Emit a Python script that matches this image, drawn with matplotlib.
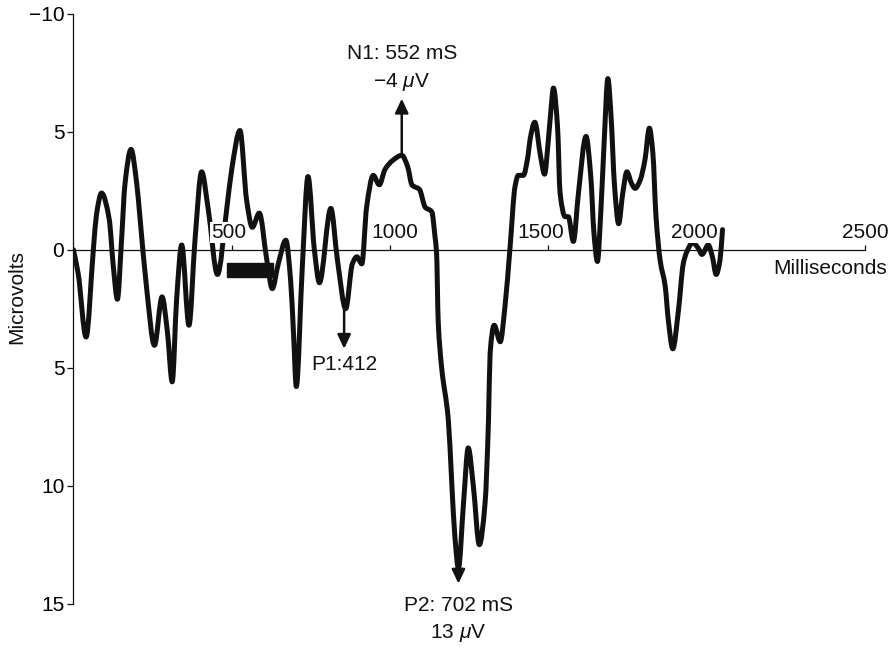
import matplotlib
matplotlib.use("Agg")
import matplotlib.pyplot as plt
import numpy as np
from matplotlib.patches import Rectangle, PathPatch
from matplotlib.path import Path

plt.rcParams['font.family'] = ['Liberation Sans', 'DejaVu Sans']
plt.rcParams['mathtext.fontset'] = 'custom'
plt.rcParams['mathtext.rm'] = 'Liberation Sans'
plt.rcParams['mathtext.it'] = 'Liberation Sans:italic'

# ERP waveform: time (ms) and amplitude (microvolts, positive plotted downward)
time_ms = [0, 15, 40, 63, 73, 89, 113, 126, 139, 152, 163, 182, 200, 210, 231,
           256, 280, 297, 312, 326, 342, 365, 384, 405, 426, 455, 484, 500, 526,
           547, 565, 587, 611, 628, 647, 671, 686, 695, 704, 723, 741, 761, 777,
           813, 834, 860, 881, 895, 911, 926, 947, 966, 984, 1010, 1037, 1056,
           1069, 1093, 1111, 1132, 1142, 1147, 1152, 1163, 1184, 1195, 1205,
           1216, 1232, 1247, 1263, 1282, 1300, 1311, 1316, 1329, 1348, 1363,
           1379, 1395, 1405, 1421, 1436, 1442, 1457, 1476, 1488, 1500, 1508,
           1516, 1529, 1537, 1553, 1563, 1579, 1595, 1619, 1634, 1644, 1655,
           1666, 1676, 1688, 1698, 1709, 1722, 1735, 1748, 1763, 1774, 1790,
           1805, 1819, 1830, 1840, 1853, 1869, 1879, 1893, 1911, 1926, 1937,
           1956, 1974, 1985, 2005, 2018, 2030, 2042, 2050]
microvolts = [0.0, 1.0, 3.7, 0.0, -1.5, -2.4, -1.3, 0.7, 2.1, -0.4, -2.8, -4.25,
              -2.8, -1.4, 1.6, 4.05, 2.0, 3.5, 5.6, 2.1, -0.2, 3.2, -0.4, -3.3,
              -1.7, 1.05, -1.7, -3.4, -5.05, -2.1, -0.95, -1.55, 0.45, 1.65, 0.6,
              -0.4, 1.3, 3.5, 5.8, 0.7, -3.1, 0.0, 1.4, -1.75, 0.45, 2.5, 0.6,
              0.3, 0.6, -1.8, -3.15, -2.75, -3.4, -3.8, -4.0, -3.5, -2.75,
              -2.55, -1.8, -1.6, -0.55, 0.15, 3.0, 5.0, 7.2, 9.9, 12.2, 13.5,
              10.75, 8.4, 10.0, 12.5, 10.75, 7.2, 4.4, 3.2, 3.9, 2.4, -0.1,
              -2.7, -3.15, -3.15, -4.0, -4.65, -5.4, -3.9, -3.2, -4.65, -5.9,
              -6.85, -5.2, -2.4, -1.4, -1.4, -0.35, -2.4, -4.8, -3.1, -0.7, 0.5,
              -1.7, -4.5, -7.25, -5.65, -2.7, -1.1, -2.4, -3.3, -2.8, -2.6,
              -2.95, -3.8, -5.15, -4.1, -1.4, 0.45, 1.55, 3.0, 4.2, 2.55, 0.6,
              0.1, -0.3, -0.05, 0.2, -0.2, 0.3, 1.05, 0.45, -0.85]

x_ticks = [500, 1000, 1500, 2000, 2500]
x_tick_labels = ["500", "1000", "1500", "2000", "2500"]
y_ticks = [-10, -5, 0, 5, 10, 15]
y_tick_labels = ["\u221210", "5", "0", "5", "10", "15"]

# Stimulus bar (ms, microvolts)
stim_start, stim_end = 486, 631
stim_top, stim_bottom = 0.55, 1.17

# Component markers: (time, amplitude at curve, arrow tip amplitude)
n1 = (1037, -4.0, -6.4)
p1 = (855, 2.5, 4.2)
p2 = (1216, 13.5, 14.15)

FS = 15
INK = "#111111"
# horizontal nudges (pixels) that keep the time labels clear of the trace
label_nudge = [-3, 5, -8, -12, 0]


def smooth_trace_path(x, y):
    """Monotone cubic (Fritsch-Carlson) Bezier path through every sample."""
    x = np.asarray(x, float)
    y = np.asarray(y, float)
    h = np.diff(x)
    d = np.diff(y) / h
    m = np.zeros_like(y)
    m[0], m[-1] = d[0], d[-1]
    for k in range(1, len(y) - 1):
        if d[k - 1] * d[k] > 0:
            w1 = 2 * h[k] + h[k - 1]
            w2 = h[k] + 2 * h[k - 1]
            m[k] = (w1 + w2) / (w1 / d[k - 1] + w2 / d[k])
    verts = [(x[0], y[0])]
    codes = [Path.MOVETO]
    for k in range(len(h)):
        verts += [(x[k] + h[k] / 3, y[k] + m[k] * h[k] / 3),
                  (x[k + 1] - h[k] / 3, y[k + 1] - m[k + 1] * h[k] / 3),
                  (x[k + 1], y[k + 1])]
        codes += [Path.CURVE4] * 3
    return Path(verts, codes)


fig = plt.figure(figsize=(8.96, 6.51), dpi=100)
ax = fig.add_axes([0.08192, 0.07266, 0.88348, 0.9063])
ax.set_xlim(0, 2500)
ax.set_ylim(15, -10)

for s in ("top", "right"):
    ax.spines[s].set_visible(False)
ax.spines["bottom"].set_position(("data", 0))
ax.spines["bottom"].set_bounds(0, 2500)
ax.spines["left"].set_bounds(-10, 15)
for s in ("bottom", "left"):
    ax.spines[s].set_linewidth(0.9)
    ax.spines[s].set_color(INK)

ax.set_xticks(x_ticks)
ax.set_xticklabels([])
ax.tick_params(axis="x", direction="in", length=3.5, width=0.9, color=INK)
ax.set_yticks(y_ticks)
ax.set_yticklabels(y_tick_labels, fontsize=FS)
ax.tick_params(axis="y", direction="out", length=4.5, width=0.9, pad=2, color=INK)

# Time labels sit above the zero line on a white ground
for t, lab, dx in zip(x_ticks, x_tick_labels, label_nudge):
    ax.annotate(lab, xy=(t, 0), xytext=(dx, 12), textcoords="offset pixels",
                ha="center", va="baseline", fontsize=FS, color=INK, zorder=6,
                bbox=dict(boxstyle="square,pad=0.05", fc="white", ec="none"))

ax.add_patch(PathPatch(smooth_trace_path(time_ms, microvolts), fill=False,
                       edgecolor=INK, lw=3.6, joinstyle="round",
                       capstyle="round", zorder=3))

ax.add_patch(Rectangle((stim_start, stim_top), stim_end - stim_start,
                       stim_bottom - stim_top, color=INK, zorder=4))

arrow_style = dict(arrowstyle="-|>,head_length=0.85,head_width=0.4",
                   lw=1.8, color=INK, shrinkA=0, shrinkB=0, mutation_scale=10)
for t, v0, v1 in (n1, p1, p2):
    ax.annotate("", xy=(t, v1), xytext=(t, v0), arrowprops=arrow_style)

ax.text(n1[0], -8.32, "N1: 552 mS", ha="center", va="center", fontsize=FS, color=INK)
ax.text(n1[0], -7.12, "\u22124 $\\mu$V", ha="center", va="center", fontsize=FS, color=INK)
ax.text(p1[0], 4.85, "P1:412", ha="center", va="center", fontsize=FS, color=INK)
ax.text(p2[0], 15.06, "P2: 702 mS", ha="center", va="center", fontsize=FS, color=INK)
ax.text(p2[0], 16.24, "13 $\\mu$V", ha="center", va="center", fontsize=FS, color=INK)

fig.text(17 / 896, 1 - 297 / 651, "Microvolts", rotation=90, ha="center",
         va="center", fontsize=FS, color=INK)
fig.text(887 / 896, 1 - 268.3 / 651, "Milliseconds", ha="right", va="center",
         fontsize=FS, color=INK)

fig.savefig("out.png", dpi=100)
